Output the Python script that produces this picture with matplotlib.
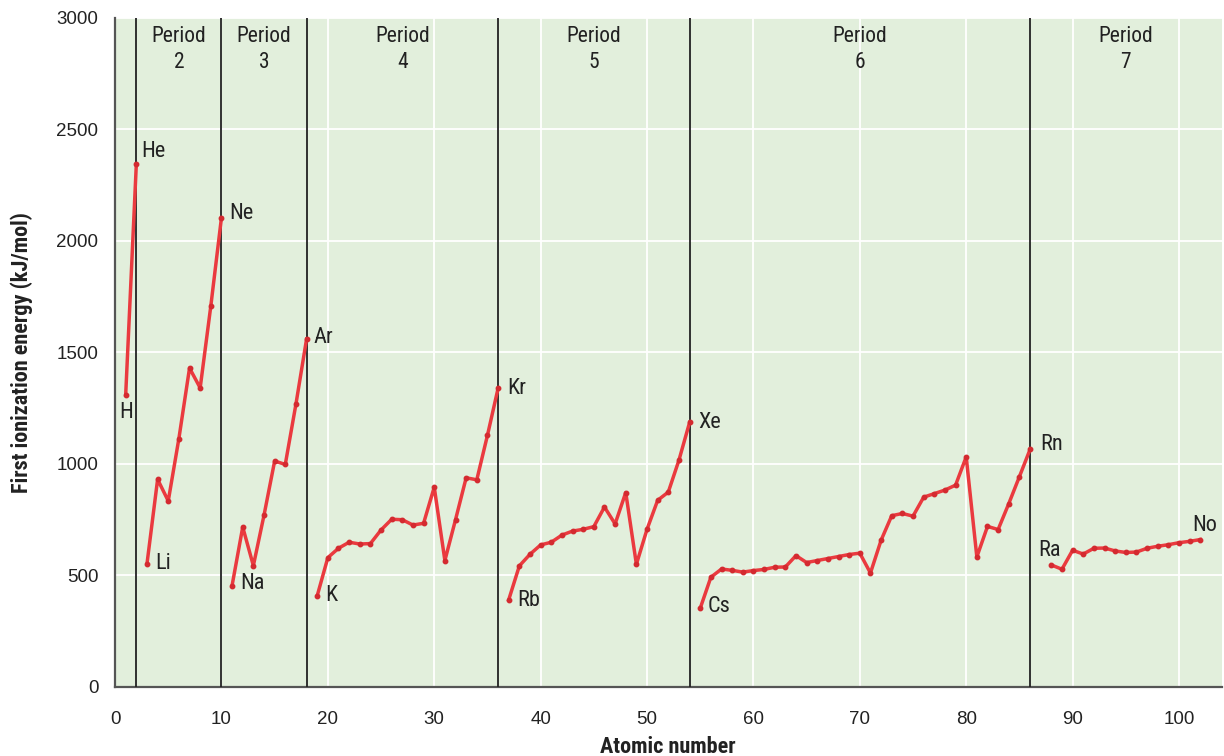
import matplotlib
matplotlib.use("Agg")
import matplotlib.pyplot as plt
from matplotlib import font_manager

# ---- first ionization energies (kJ/mol), grouped by period ----
period_z = [
    [1, 2],
    list(range(3, 11)),
    list(range(11, 19)),
    list(range(19, 37)),
    list(range(37, 55)),
    list(range(55, 87)),
    list(range(88, 103)),
]
period_energy = [
    [1311, 2345],
    [552, 931, 834, 1114, 1430, 1341, 1708, 2104],
    [455, 717, 544, 770, 1013, 998, 1268, 1560],
    [409, 580, 622, 649, 641, 643, 704, 752, 750, 726, 734, 896,
     567, 750, 938, 929, 1128, 1339],
    [391, 543, 595, 637, 649, 681, 699, 707, 719, 807, 731, 872,
     550, 707, 837, 874, 1017, 1186],
    [353, 492, 529, 523, 515, 522, 527, 537, 538, 589, 558, 567,
     576, 585, 594, 600, 511, 658, 768, 778, 766, 851, 867, 883,
     905, 1032, 583, 720, 706, 822, 943, 1065],
    [547, 528, 613, 596, 622, 623, 610, 603, 605, 622, 631, 638,
     647, 653, 661],
]

# noble-gas boundaries and period names
boundaries = [2, 10, 18, 36, 54, 86]
period_names = ["2", "3", "4", "5", "6", "7"]
period_centers = [6, 14, 27, 45, 70, 95]

# labelled elements: symbol, atomic number, (dx, dy) pixel offset, alignment
labels = [
    ("H", 1, (0, -7), "center", "top"),
    ("He", 2, (5, 12), "left", "center"),
    ("Li", 3, (8, 0), "left", "center"),
    ("Ne", 10, (8, 4), "left", "center"),
    ("Na", 11, (8, 2), "left", "center"),
    ("Ar", 18, (7, 2), "left", "center"),
    ("K", 19, (8, 0), "left", "center"),
    ("Kr", 36, (9, 0), "left", "center"),
    ("Rb", 37, (9, -1), "left", "center"),
    ("Xe", 54, (9, 0), "left", "center"),
    ("Cs", 55, (7, 2), "left", "center"),
    ("Rn", 86, (10, 5), "left", "center"),
    ("Ra", 88, (-2, 14), "center", "center"),
    ("No", 102, (4, 14), "center", "center"),
]

# pick a narrow face if one is around
installed = {f.name for f in font_manager.fontManager.ttflist}
narrow = "Roboto"
for cand in ["Roboto Condensed", "Liberation Sans Narrow",
             "Open Sans Condensed", "Noto Sans Condensed"]:
    if cand in installed:
        narrow = cand
        break
plt.rcParams["font.family"] = ["Liberation Sans", "DejaVu Sans"]

bg = "#e2efdc"
red = "#ea3a3f"
ink = "#222222"

fig = plt.figure(figsize=(12.24, 7.56), dpi=100)
ax = fig.add_axes([0.094, 0.0913, 0.904, 0.885])
ax.set_facecolor(bg)

for z, e in zip(period_z, period_energy):
    ax.plot(z, e, color=red, lw=2.5, marker="o", ms=3.2,
            mec="#d42a30", mfc="#d42a30", zorder=4)

for b in boundaries:
    ax.axvline(b, color=ink, lw=1.3, zorder=3)

for name, xc in zip(period_names, period_centers):
    ax.text(xc, 2965, "Period\n" + name, ha="center", va="top",
            fontsize=15.5, family=narrow, color=ink, linespacing=1.3,
            zorder=5)

lookup = {}
for z, e in zip(period_z, period_energy):
    lookup.update(dict(zip(z, e)))

for sym, z, off, ha, va in labels:
    ax.annotate(sym, (z, lookup[z]), xytext=off, textcoords="offset pixels",
                ha=ha, va=va, fontsize=16, family=narrow, color=ink,
                zorder=5)

ax.set_xlim(0, 104)
ax.set_ylim(0, 3000)
ax.set_xticks(range(0, 101, 10))
ax.set_yticks(range(0, 3001, 500))
ax.grid(True, color="white", lw=1.3, zorder=1)
ax.set_axisbelow(True)
ax.tick_params(length=0, labelsize=13.5, colors=ink)
ax.tick_params(axis="x", pad=17)
ax.tick_params(axis="y", pad=12)

for side in ("top", "right"):
    ax.spines[side].set_visible(False)
for side in ("left", "bottom"):
    ax.spines[side].set_color("#555555")
    ax.spines[side].set_linewidth(1.6)

ax.set_xlabel("Atomic number", fontsize=16, fontweight="bold",
              family=narrow, color=ink, labelpad=6)
ax.set_ylabel("First ionization energy (kJ/mol)", fontsize=16,
              fontweight="bold", family=narrow, color=ink, labelpad=17)

fig.savefig("out.png", dpi=100, facecolor="white")
